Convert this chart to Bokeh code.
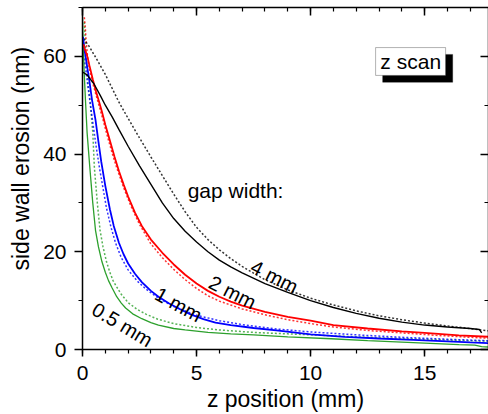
import math
from bokeh.plotting import figure
from bokeh.models import (LinearAxis, Label, BoxAnnotation, SingleIntervalTicker, Range1d,
                          CustomJSTickFormatter, Title)
from bokeh.embed import file_html
from bokeh.resources import INLINE

# ---------------- data ----------------
# gap width 4 mm (black): measured (solid) and simulated (dotted)
x_4mm = [0.0, 0.2, 0.5, 0.8, 1.0, 1.3, 1.6, 2.0, 2.5, 3.0, 3.5, 4.0, 4.5, 5.0, 5.5, 6.0, 6.5, 7.0,
         8.0, 9.0, 10.0, 11.0, 12.0, 13.0, 14.0, 15.0, 16.0, 17.0, 17.4, 17.5]
y_4mm = [56.8, 56.2, 54.4, 51.8, 50.0, 47.6, 45.0, 41.6, 37.6, 33.8, 30.0, 26.8, 24.2, 22.0, 20.0,
         18.3, 16.9, 15.7, 13.5, 11.7, 10.0, 8.6, 7.4, 6.4, 5.6, 5.0, 4.6, 4.3, 4.1, 3.4]
x_4mm_sim = [0.05, 0.3, 0.6, 1.0, 1.58, 2.0, 2.5, 3.0, 3.5, 4.0, 4.5, 5.0, 5.5, 6.0, 6.5, 7.0,
             8.0, 9.0, 10.0, 11.0, 12.0, 13.0, 14.0, 15.0, 16.0, 17.0, 17.8]
y_4mm_sim = [63.6, 62.0, 59.6, 56.3, 50.8, 47.3, 43.3, 39.4, 35.6, 31.8, 28.2, 25.0, 22.5, 20.4,
             18.6, 17.0, 14.3, 12.2, 10.5, 9.1, 7.9, 6.9, 6.1, 5.4, 4.8, 4.3, 3.8]

# gap width 2 mm (red)
x_2mm = [0.04, 0.1, 0.2, 0.3, 0.45, 0.6, 0.72, 0.85, 1.0, 1.2, 1.4, 1.6, 1.8, 2.0, 2.3, 2.6,
         3.0, 3.5, 4.0, 4.5, 5.0, 5.5, 6.0, 6.5, 7.0, 8.0, 9.0, 10.0, 11.0, 12.5, 14.0, 15.0, 16.5, 17.8]
y_2mm = [62.5, 61.5, 60.2, 58.2, 55.3, 52.7, 50.8, 48.7, 46.0, 42.8, 39.5, 36.5, 33.8, 31.3, 28.0,
         25.3, 22.5, 19.8, 17.4, 15.3, 13.5, 12.0, 10.8, 9.8, 9.0, 7.7, 6.7, 5.9, 5.0, 4.3, 3.7,
         3.4, 2.9, 2.6]
x_2mm_sim = [0.08, 0.12, 0.16, 0.22, 0.3, 0.45, 0.6, 0.75, 0.9, 1.1, 1.3, 1.5, 1.8, 2.1, 2.5, 3.0,
             3.5, 4.0, 4.5, 5.0, 5.5, 6.0, 7.0, 8.0, 9.0, 10.0, 11.0, 12.5, 14.0, 15.5, 17.0, 17.8]
y_2mm_sim = [68.0, 66.0, 63.0, 60.0, 57.5, 54.5, 52.0, 49.5, 47.0, 43.5, 40.2, 37.2, 33.2, 29.6,
             25.6, 21.6, 18.8, 16.4, 14.3, 12.5, 11.0, 9.9, 8.3, 7.1, 6.1, 5.3, 4.6, 3.9, 3.4,
             2.9, 2.5, 2.3]

# gap width 1 mm (blue)
x_1mm = [0.02, 0.1, 0.2, 0.28, 0.42, 0.57, 0.7, 0.82, 1.0, 1.2, 1.37, 1.6, 1.8, 2.0, 2.3, 2.6,
         3.0, 3.33, 3.8, 4.3, 4.74, 5.3, 5.83, 6.5, 7.5, 8.5, 10.0, 11.5, 13.0, 14.5, 16.0, 17.0, 17.8]
y_1mm = [64.0, 61.0, 58.0, 55.7, 51.0, 47.0, 42.5, 38.5, 33.5, 28.7, 25.3, 21.8, 19.5, 17.6, 15.5,
         13.8, 12.0, 10.8, 9.4, 8.2, 7.2, 6.2, 5.5, 5.0, 4.4, 3.9, 3.1, 2.6, 2.25, 1.95, 1.65,
         1.45, 1.3]
x_1mm_sim = [0.0, 0.05, 0.13, 0.22, 0.32, 0.45, 0.6, 0.75, 0.9, 1.05, 1.25, 1.45, 1.7, 2.0, 2.4,
             2.8, 3.3, 4.0, 5.0, 6.0, 7.0, 8.5, 10.0, 12.0, 14.0, 16.0, 17.8]
y_1mm_sim = [62.0, 60.0, 57.7, 54.5, 51.0, 46.5, 41.5, 37.0, 33.0, 29.0, 25.0, 21.8, 18.8, 16.3,
             14.0, 12.3, 10.6, 8.8, 7.0, 5.9, 5.1, 4.2, 3.6, 3.0, 2.5, 2.1, 1.8]

# gap width 0.5 mm (green)
x_05mm = [0.0, 0.03, 0.08, 0.13, 0.2, 0.32, 0.45, 0.57, 0.7, 0.85, 1.0, 1.14, 1.3, 1.5, 1.7, 1.89,
          2.2, 2.6, 3.0, 3.33, 4.0, 4.5, 5.5, 6.5, 7.5, 9.0, 10.9, 12.5, 14.0, 15.5, 16.5, 17.2,
          17.5, 17.8]
y_05mm = [68.0, 62.0, 56.0, 51.0, 44.5, 37.3, 30.0, 24.4, 21.0, 18.0, 15.8, 14.1, 12.6, 10.8, 9.5,
          8.5, 7.3, 6.3, 5.5, 5.0, 4.3, 4.0, 3.5, 3.2, 3.0, 2.6, 2.2, 1.8, 1.5, 1.2, 1.0, 0.9,
          0.6, 0.5]
x_05mm_sim = [0.08, 0.15, 0.25, 0.33, 0.45, 0.52, 0.65, 0.77, 0.9, 1.05, 1.2, 1.34, 1.5, 1.7, 2.0,
              2.4, 2.8, 3.3, 4.0, 5.0, 6.0, 7.5, 9.0, 11.0, 13.0, 15.0, 17.0, 17.8]
y_05mm_sim = [67.0, 60.0, 54.0, 51.0, 44.5, 37.3, 30.0, 24.4, 21.0, 18.0, 15.8, 14.1, 12.8, 11.3,
              9.6, 8.2, 7.2, 6.2, 5.3, 4.5, 4.0, 3.5, 3.2, 2.8, 2.4, 2.1, 1.8, 1.7]

x_tick_interval = 5
y_tick_interval = 20

FONT = "Liberation Sans"

p = figure(width=488, height=414, output_backend="svg", toolbar_location=None,
           x_range=Range1d(0, 17.8), y_range=Range1d(0, 70.0),
           min_border_left=82, min_border_right=0, min_border_top=7, min_border_bottom=65)
p.grid.visible = False
p.outline_line_color = None
p.background_fill_color = "white"
p.border_fill_color = "white"


def style_axis(ax):
    ax.axis_line_color = "black"
    ax.axis_line_width = 1.5
    ax.major_tick_line_color = "black"
    ax.major_tick_line_width = 1.5
    ax.minor_tick_line_color = "black"
    ax.minor_tick_line_width = 1.2
    ax.major_label_text_font = FONT
    ax.major_label_text_font_size = "21px"
    ax.major_label_text_color = "black"


xa = p.xaxis[0]
xa.ticker = SingleIntervalTicker(interval=x_tick_interval, num_minor_ticks=5)
style_axis(xa)
xa.major_tick_out = 7
xa.major_tick_in = 0
xa.minor_tick_out = 4
xa.minor_tick_in = 0
xa.major_label_standoff = 9
xa.axis_label = "z position (mm)"
xa.axis_label_text_font = FONT
xa.axis_label_text_font_size = "23px"
xa.axis_label_text_font_style = "normal"
xa.axis_label_text_color = "black"
xa.axis_label_standoff = 3

ya = p.yaxis[0]
ya.ticker = SingleIntervalTicker(interval=y_tick_interval, num_minor_ticks=2)
style_axis(ya)
ya.major_tick_out = 8
ya.major_tick_in = 0
ya.minor_tick_out = 4
ya.minor_tick_in = 0
ya.major_label_standoff = 8

# mirrored axes (ticks only, pointing inward)
top = LinearAxis(ticker=SingleIntervalTicker(interval=x_tick_interval, num_minor_ticks=5))
right = LinearAxis(ticker=SingleIntervalTicker(interval=y_tick_interval, num_minor_ticks=2))
for ax in (top, right):
    style_axis(ax)
    ax.formatter = CustomJSTickFormatter(code="return ''")
    ax.major_tick_in = 8
    ax.major_tick_out = 0
    ax.minor_tick_in = 4
    ax.minor_tick_out = 0
    ax.major_label_text_font_size = "0px"
    ax.major_label_standoff = 0
p.add_layout(top, "above")
p.add_layout(right, "right")

# y axis title (side title so it can sit off-centre like the original)
p.add_layout(Title(text="side wall erosion (nm)", align="left", offset=79, standoff=12,
                   vertical_align="middle",
                   text_font=FONT, text_font_size="23px", text_font_style="normal",
                   text_color="black"), "left")

series = [
    (x_05mm_sim, y_05mm_sim, x_05mm, y_05mm, "#2ca02c", 1.3),
    (x_1mm_sim, y_1mm_sim, x_1mm, y_1mm, "#0000ff", 1.8),
    (x_2mm_sim, y_2mm_sim, x_2mm, y_2mm, "#ff0000", 1.8),
    (x_4mm_sim, y_4mm_sim, x_4mm, y_4mm, "#000000", 1.4),
]
for xs, ys, xm, ym, col, lw in series:
    p.line(xs, ys, line_color=col, line_width=1.5, line_dash="2 2", line_alpha=0.8)
for xs, ys, xm, ym, col, lw in series:
    p.line(xm, ym, line_color=col, line_width=lw)


def add_label(x, y, text, angle_deg, size="20px"):
    p.add_layout(Label(x=x, y=y, text=text, angle=math.radians(angle_deg),
                       text_align="center", text_baseline="middle",
                       text_font=FONT, text_font_size=size, text_color="black"))


add_label(6.71, 32.5, "gap width:", 0, "21px")
add_label(8.42, 14.9, "4 mm", -27)
add_label(6.58, 11.7, "2 mm", -27)
add_label(4.21, 9.2, "1 mm", -29)
add_label(1.75, 5.1, "0.5 mm", -31)

# "z scan" box with drop shadow
p.add_layout(BoxAnnotation(left=13.16, right=16.23, bottom=54.7, top=60.4,
                           fill_color="black", fill_alpha=1.0, line_color="black"))
p.add_layout(BoxAnnotation(left=12.85, right=15.92, bottom=56.1, top=61.8,
                           fill_color="white", fill_alpha=1.0, line_color="black", line_width=1))
add_label(14.39, 59.0, "z scan", 0, "21px")

open("out.html", "w").write(file_html(p, INLINE))
